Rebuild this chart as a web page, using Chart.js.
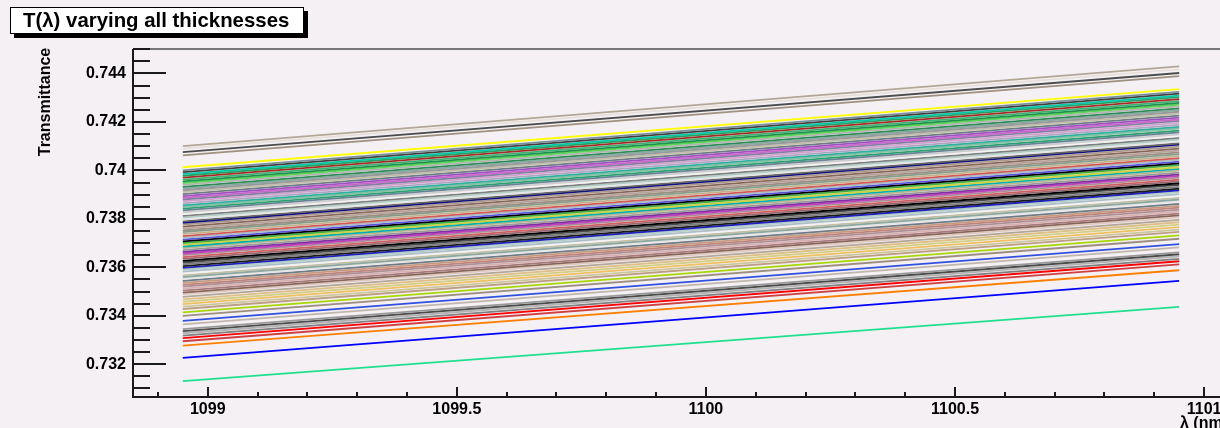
<!DOCTYPE html>
<html>
<head>
<meta charset="utf-8">
<script src="https://cdn.jsdelivr.net/npm/chart.js@4.4.1/dist/chart.umd.min.js"></script>
<style>
  html, body { margin:0; padding:0; }
  body { width:1220px; height:428px; overflow:hidden; background:#f4f0f4; position:relative; font-family:"Liberation Sans", Arial, sans-serif; }
  #wrap { position:absolute; left:0; top:0; width:1245px; height:428px; }
  #c { filter: blur(0.35px); }
  #title { position:absolute; left:10px; top:7px; width:280px; height:25px; border:1px solid #000; background:#fff;
           box-shadow:4px 4px 0 #000; font-weight:bold; font-size:20.4px; line-height:25px; padding-left:12px; box-sizing:content-box; color:#000; white-space:nowrap; }
  #ytitle { position:absolute; left:-11px; top:92px; width:112px; height:20px; line-height:20px; text-align:center;
            transform:rotate(-90deg); font-weight:bold; font-size:16px; color:#000; white-space:nowrap; }
  #xtitle { position:absolute; left:1180px; top:414px; font-weight:bold; font-size:16px; line-height:18px; color:#000; white-space:nowrap; }
</style>
</head>
<body>
<div id="wrap"><canvas id="c" width="1245" height="428"></canvas></div>
<div id="title">T(λ) varying all thicknesses</div>
<div id="ytitle">Transmittance</div>
<div id="xtitle">λ (nm)</div>
<script>
// wavelength endpoints of every curve (nm)
const lambdaStart = 1098.95;
const lambdaEnd = 1100.95;

// transmittance at lambdaStart for each curve
const tStart = [
  0.74100, 0.74090, 0.74075, 0.74062, 0.74013, 0.74000, 0.73993, 0.73985, 0.73978, 0.73970,
  0.73962, 0.73955, 0.73948, 0.73940, 0.73932, 0.73925, 0.73918, 0.73910, 0.73902, 0.73894,
  0.73887, 0.73880, 0.73872, 0.73864, 0.73856, 0.73849, 0.73842, 0.73835, 0.73827, 0.73820,
  0.73812, 0.73805, 0.73797, 0.73790, 0.73784, 0.73776, 0.73768, 0.73760, 0.73752, 0.73745,
  0.73737, 0.73729, 0.73722, 0.73714, 0.73707, 0.73700, 0.73693, 0.73686, 0.73679, 0.73671,
  0.73664, 0.73657, 0.73650, 0.73642, 0.73635, 0.73627, 0.73620, 0.73612, 0.73605, 0.73598,
  0.73590, 0.73582, 0.73575, 0.73567, 0.73560, 0.73552, 0.73544, 0.73536, 0.73528, 0.73520,
  0.73512, 0.73504, 0.73496, 0.73488, 0.73478, 0.73468, 0.73458, 0.73448, 0.73438, 0.73428,
  0.73414, 0.73400, 0.73379, 0.73365, 0.73345, 0.73337, 0.73328, 0.73318, 0.73308, 0.73295,
  0.73277, 0.73226, 0.73130
];

// transmittance at lambdaEnd for each curve
const tEnd = [
  0.74429, 0.74417, 0.74402, 0.74389, 0.74335, 0.74324, 0.74317, 0.74309, 0.74302, 0.74294,
  0.74286, 0.74279, 0.74272, 0.74264, 0.74256, 0.74249, 0.74242, 0.74234, 0.74226, 0.74218,
  0.74211, 0.74204, 0.74196, 0.74188, 0.74180, 0.74173, 0.74164, 0.74157, 0.74149, 0.74142,
  0.74134, 0.74127, 0.74119, 0.74112, 0.74106, 0.74098, 0.74090, 0.74082, 0.74074, 0.74067,
  0.74059, 0.74051, 0.74044, 0.74036, 0.74029, 0.74022, 0.74013, 0.74006, 0.73999, 0.73991,
  0.73984, 0.73977, 0.73970, 0.73962, 0.73955, 0.73947, 0.73940, 0.73932, 0.73925, 0.73918,
  0.73910, 0.73902, 0.73895, 0.73887, 0.73880, 0.73872, 0.73862, 0.73854, 0.73846, 0.73838,
  0.73830, 0.73822, 0.73814, 0.73806, 0.73796, 0.73786, 0.73776, 0.73766, 0.73756, 0.73746,
  0.73732, 0.73718, 0.73696, 0.73682, 0.73662, 0.73654, 0.73645, 0.73635, 0.73625, 0.73612,
  0.73588, 0.73544, 0.73437
];

const lineColors = [
  '#b3a696', '#e8e0d8', '#4c4c4c', '#a09080', '#ffff00', '#7a8f99', '#404040', '#00c8a8', '#2e9e5e', '#a82828',
  '#3cb371', '#1f8f4f', '#59d454', '#b2b2b2', '#2e8b57', '#8aa8a1', '#999999', '#c2bfa8', '#6e7a85', '#a050c0',
  '#cc66cc', '#8080a1', '#d4a0d0', '#aba6bf', '#30b0a0', '#85c2a3', '#2aa070', '#698296', '#cccccc', '#f2f2f2',
  '#7f7f7f', '#b0cfc7', '#e5e5e5', '#666666', '#101080', '#ad998c', '#876657', '#b8a39c', '#9c8f82', '#829e8c',
  '#c7b08c', '#d45954', '#adbdc7', '#5954d9', '#000000', '#40b040', '#d0d040', '#00b0b0', '#bab58c', '#999999',
  '#8030a0', '#c040c0', '#ab8f94', '#cf5e61', '#946970', '#000000', '#4c4c4c', '#7f7f7f', '#1a1a1a', '#2020c0',
  '#b0cfc7', '#adbdc7', '#f2f2f2', '#c2bfa8', '#8aa8a1', '#e5e5e5', '#6e7a85', '#c7997d', '#bf8278', '#ab8f94',
  '#d8b0b0', '#a6787a', '#876657', '#e0c8c0', '#b3a696', '#debf87', '#d4cf87', '#f0c060', '#ccc79e', '#bd9e82',
  '#a8d800', '#9c8f82', '#3050e0', '#c0b6ac', '#999999', '#4c4c4c', '#b2b2b2', '#7f7f7f', '#ff0000', '#d04040',
  '#ff8000', '#0000ff', '#20e090'
];

const yMajorTicks = [0.732, 0.734, 0.736, 0.738, 0.740, 0.742, 0.744];
const xMajorTicks = [1099, 1099.5, 1100, 1100.5, 1101];
const yRange = [0.73069, 0.74501];
const xRange = [1098.85, 1101.05];
const yMinorStep = 0.0005;
const xMinorStep = 0.1;

const datasets = tStart.map((s, i) => ({
  data: [{x: lambdaStart, y: s}, {x: lambdaEnd, y: tEnd[i]}],
  borderColor: lineColors[i],
  borderWidth: 1.8,
  pointRadius: 0,
  fill: false,
  tension: 0
}));

const frameTicks = {
  id: 'frameTicks',
  afterDraw(chart) {
    const {ctx, chartArea: a, scales: {x, y}} = chart;
    ctx.save();
    ctx.strokeStyle = '#777';
    ctx.lineWidth = 2;
    ctx.beginPath(); ctx.moveTo(a.left, a.top); ctx.lineTo(a.right, a.top); ctx.stroke();
    ctx.beginPath(); ctx.moveTo(a.right, a.top); ctx.lineTo(a.right, a.bottom); ctx.stroke();
    ctx.strokeStyle = '#1a1a1a';
    ctx.lineWidth = 2;
    ctx.beginPath(); ctx.moveTo(a.left, a.top); ctx.lineTo(a.left, a.bottom + 1); ctx.lineTo(a.right, a.bottom + 1); ctx.stroke();
    const nY = Math.round((yRange[1] - yRange[0]) / yMinorStep) + 2;
    const y0 = Math.ceil(yRange[0] / yMinorStep) * yMinorStep;
    for (let k = 0; k < nY; k++) {
      const v = +(y0 + k * yMinorStep).toFixed(5);
      if (v > yRange[1]) break;
      const major = yMajorTicks.some(t => Math.abs(t - v) < 1e-7);
      const py = Math.round(y.getPixelForValue(v));
      ctx.beginPath(); ctx.moveTo(a.left, py); ctx.lineTo(a.left + (major ? 33 : 17), py); ctx.stroke();
    }
    const x0 = Math.ceil(xRange[0] / xMinorStep) * xMinorStep;
    for (let k = 0; k < 40; k++) {
      const v = +(x0 + k * xMinorStep).toFixed(3);
      if (v > xRange[1]) break;
      const major = xMajorTicks.some(t => Math.abs(t - v) < 1e-7);
      const px = Math.round(x.getPixelForValue(v));
      ctx.beginPath(); ctx.moveTo(px, a.bottom + 1); ctx.lineTo(px, a.bottom + 1 - (major ? 10 : 5)); ctx.stroke();
    }
    ctx.restore();
  }
};

new Chart(document.getElementById('c'), {
  type: 'line',
  data: { datasets },
  plugins: [frameTicks],
  options: {
    responsive: false,
    animation: false,
    events: [],
    layout: { padding: { top: 49, right: 16, left: 0, bottom: 0 } },
    plugins: { legend: { display: false }, tooltip: { enabled: false }, title: { display: false } },
    scales: {
      x: {
        type: 'linear', min: xRange[0], max: xRange[1],
        grid: { display: false, drawTicks: false },
        border: { display: false },
        afterBuildTicks: s => { s.ticks = xMajorTicks.map(v => ({ value: v })); },
        afterFit: s => { s.height = 32; },
        ticks: {
          autoSkip: false, maxRotation: 0, padding: 4, color: '#000',
          font: { family: 'Liberation Sans', size: 16, weight: 'bold' },
          callback: v => String(v)
        }
      },
      y: {
        type: 'linear', min: yRange[0], max: yRange[1],
        grid: { display: false, drawTicks: false },
        border: { display: false },
        afterBuildTicks: s => { s.ticks = yMajorTicks.map(v => ({ value: v })); },
        afterFit: s => { s.width = 133; },
        ticks: {
          autoSkip: false, padding: 7, color: '#000',
          font: { family: 'Liberation Sans', size: 16, weight: 'bold' },
          callback: v => String(parseFloat(Number(v).toFixed(3)))
        }
      }
    }
  }
});
</script>
</body>
</html>
